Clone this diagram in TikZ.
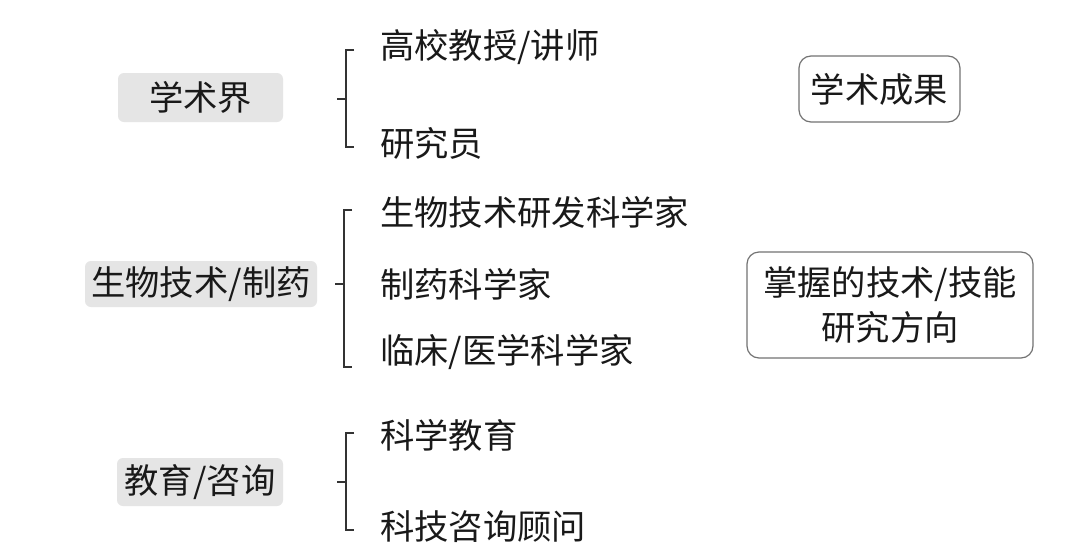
\documentclass[tikz,border=0pt]{standalone}
\usepackage{fontspec}
\setmainfont{Noto Sans CJK SC}
\begin{document}
\begin{tikzpicture}[x=1pt,y=-1pt,
  txt/.style={font=\fontsize{34.3}{45}\selectfont, text=black!90, inner sep=0pt},
  item/.style={txt, anchor=west},
  group/.style={txt, fill=black!10, rounded corners=6pt, inner sep=0pt},
  result/.style={txt, draw=black!55, line width=1.2pt, rounded corners=12pt, align=center},
  bracket/.style={draw=black!80, line width=1.4pt}
]
\useasboundingbox (0,0) rectangle (1080,552);
\fill[white] (0,0) rectangle (1080,552);

% group boxes
\node[group, minimum width=165pt, minimum height=49pt] (g1) at (200.5,97.5) {学术界};
\node[group, minimum width=232pt, minimum height=46pt] (g2) at (201,284) {生物技术/制药};
\node[group, minimum width=166pt, minimum height=48pt] (g3) at (200,482) {教育/咨询};

% brackets
\newcommand{\brk}[4]{% x, top, mid, bottom
  \draw[bracket] (#1+8,#2) -- (#1,#2) -- (#1,#4) -- (#1+8,#4);
  \draw[bracket] (#1-9,#3) -- (#1,#3);}
\brk{346}{50}{99}{147}
\brk{344}{210}{284}{367}
\brk{346}{433}{482}{530}

% items
\node[item] (a1) at (380,47) {高校教授/讲师};
\node[item] (a2) at (380,143) {研究员};
\node[item] (b1) at (380,212) {生物技术研发科学家};
\node[item] (b2) at (380,284) {制药科学家};
\node[item] (b3) at (380,352) {临床/医学科学家};
\node[item] (c1) at (380,435) {科学教育};
\node[item] (c2) at (380,527) {科技咨询顾问};

% result boxes
\node[result, minimum width=161pt, minimum height=66pt] (r1) at (879.5,89) {学术成果};
\node[result, minimum width=286pt, minimum height=106pt] (r2) at (890,305) {掌握的技术/技能\\研究方向};
\end{tikzpicture}
\end{document}
